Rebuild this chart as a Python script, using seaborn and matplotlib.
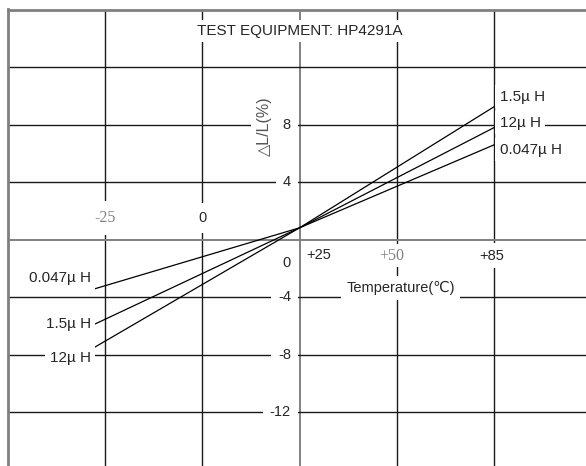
import numpy as np
import pandas as pd
import seaborn as sns
import matplotlib.pyplot as plt

# inductance change vs temperature
temps = [-27.5, 25, 85]
dll_0047 = [-3.4, 0.83, 6.6]
dll_15 = [-5.85, 0.83, 9.25]
dll_12 = [-7.45, 0.83, 7.8]
parts = ['0.047µ H', '1.5µ H', '12µ H']

x_ticks = [-25, 0, 25, 50, 85]
x_labels = ['-25', '0', '+25', '+50', '+85']
y_ticks = [12, 8, 4, 0, -4, -8, -12]
y_labels = ['8', '4', '0', '-4', '-8', '-12']

df = pd.DataFrame({
    'temp': temps * 3,
    'dLL': dll_0047 + dll_15 + dll_12,
    'part': [p for p in parts for _ in temps],
})


def fwd(t):
    # +85 sits one grid step after +50
    t = np.asarray(t, dtype=float)
    return np.where(t <= 50, t, 50 + (t - 50) * 25 / 35)


def inv(p):
    p = np.asarray(p, dtype=float)
    return np.where(p <= 50, p, 50 + (p - 50) * 35 / 25)


def box(pad):
    return dict(boxstyle=f'square,pad={pad}', fc='white', ec='none')


sns.set_theme(style='white')
plt.rcParams['font.family'] = ['Liberation Sans', 'DejaVu Sans']

fig = plt.figure(figsize=(5.86, 4.66), dpi=100)
ax = fig.add_axes([7.5 / 586, 0, 1 - 7.5 / 586, 456.5 / 466])

sns.lineplot(data=df, x='temp', y='dLL', hue='part', palette=['black'] * 3,
             legend=False, linewidth=0.9, ax=ax, zorder=3)
ax.set_xscale('function', functions=(fwd, inv))
ax.set_xlim(-50, 118)
ax.set_ylim(-15.72, 16)

for t in x_ticks:
    ax.axvline(t, color='#808080' if t == 25 else '#1a1a1a',
               lw=1.4 if t == 25 else 1.0, zorder=1)
for v in y_ticks:
    ax.axhline(v, color='#808080' if v == 0 else '#1a1a1a',
               lw=1.4 if v == 0 else 1.0, zorder=1)

ax.set_xticks([])
ax.set_yticks([])
ax.set_xlabel('')
ax.set_ylabel('')
for side in ['right', 'bottom']:
    ax.spines[side].set_visible(False)
for side in ['left', 'top']:
    ax.spines[side].set_color('#808080')
    ax.spines[side].set_linewidth(2)

ax.text(25, 14.5, 'TEST EQUIPMENT: HP4291A', ha='center', va='center',
        fontsize=11, bbox=box(0.25), zorder=4)

# y tick labels along the +25 line
for v, lab in zip(y_ticks[1:], y_labels):
    yy = -1.6 if v == 0 else v
    ax.text(22.8, yy, lab, ha='right', va='center', fontsize=10.5,
            bbox=box(0.45), zorder=4)
ax.text(16, 7.9, '△L/L(%)', rotation=90, ha='center', va='center',
        fontsize=11.5, color='#555555', bbox=box(0.35), zorder=4)

# x tick labels
ax.text(-25, 1.53, x_labels[0], ha='center', va='center', fontsize=11.5,
        family='Liberation Serif', color='#808080', bbox=box(0.55), zorder=4)
ax.text(0, 1.5, x_labels[1], ha='center', va='center', fontsize=10.5,
        bbox=box(0.55), zorder=4)
ax.text(30, -1.05, x_labels[2], ha='center', va='center', fontsize=10.5,
        zorder=4)
ax.text(48.7, -1.1, x_labels[3], ha='center', va='center', fontsize=11.5,
        family='Liberation Serif', color='#808080', bbox=box(0.2), zorder=4)
ax.text(84.2, -1.1, x_labels[4], ha='center', va='center', fontsize=10.5,
        bbox=box(0.35), zorder=4)
ax.text(51.4, -3.35, 'Temperature(℃)', ha='center', va='center',
        fontsize=10.5, bbox=box(0.35), zorder=4)

# curve names
for yy, lab in zip([9.95, 8.14, 6.26], ['1.5µ H', '12µ H', '0.047µ H']):
    ax.text(87, yy, lab, ha='left', va='center', fontsize=11,
            bbox=box(0.3), zorder=4)
for yy, lab in zip([-2.64, -5.84, -8.21], ['0.047µ H', '1.5µ H', '12µ H']):
    ax.text(-28.6, yy, lab, ha='right', va='center', fontsize=11,
            bbox=box(0.3), zorder=4)

fig.savefig('out.png', dpi=100, facecolor='white')
